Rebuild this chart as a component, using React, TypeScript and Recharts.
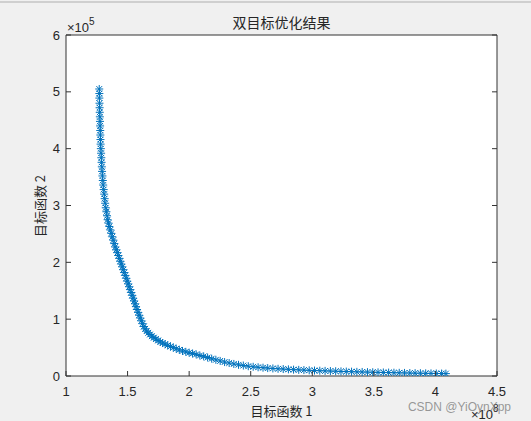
import React from 'react';
import { ScatterChart, Scatter, XAxis, YAxis, CartesianGrid } from 'recharts';

const f1 = [
  1.270, 1.271, 1.271, 1.272, 1.273, 1.274, 1.275, 1.276, 1.277, 1.278,
  1.279, 1.280, 1.281, 1.283, 1.285, 1.287, 1.289, 1.291, 1.293, 1.296,
  1.299, 1.302, 1.306, 1.310, 1.314, 1.318, 1.323, 1.328, 1.333, 1.338,
  1.345, 1.352, 1.360, 1.368, 1.376, 1.384, 1.392, 1.400, 1.408, 1.417,
  1.425, 1.433, 1.441, 1.449, 1.457, 1.465, 1.473, 1.481, 1.489, 1.497,
  1.505, 1.513, 1.521, 1.529, 1.537, 1.545, 1.553, 1.561, 1.569, 1.577,
  1.585, 1.594, 1.603, 1.612, 1.622, 1.632, 1.643, 1.655, 1.668, 1.682,
  1.697, 1.713, 1.730, 1.748, 1.766, 1.785, 1.805, 1.826, 1.848, 1.871,
  1.895, 1.920, 1.946, 1.973, 2.000, 2.028, 2.057, 2.087, 2.118, 2.150,
  2.183, 2.217, 2.252, 2.288, 2.325, 2.363, 2.401, 2.440, 2.480, 2.520,
  2.560, 2.600, 2.638, 2.680, 2.722, 2.764, 2.806, 2.848, 2.890, 2.932,
  2.975, 3.018, 3.061, 3.104, 3.147, 3.190, 3.233, 3.276, 3.319, 3.362,
  3.405, 3.448, 3.491, 3.534, 3.577, 3.620, 3.663, 3.706, 3.749, 3.792,
  3.835, 3.878, 3.921, 3.964, 4.007, 4.050, 4.085,
];
const f2 = [
  5.05, 4.97, 4.89, 4.80, 4.72, 4.64, 4.56, 4.48, 4.40, 4.32,
  4.24, 4.16, 4.08, 4.00, 3.92, 3.84, 3.76, 3.68, 3.60, 3.52,
  3.44, 3.36, 3.28, 3.20, 3.12, 3.04, 2.96, 2.89, 2.82, 2.75,
  2.69, 2.63, 2.57, 2.51, 2.45, 2.39, 2.33, 2.27, 2.22, 2.17,
  2.12, 2.07, 2.02, 1.97, 1.92, 1.87, 1.82, 1.77, 1.72, 1.67,
  1.62, 1.57, 1.52, 1.47, 1.42, 1.37, 1.32, 1.27, 1.22, 1.17,
  1.12, 1.07, 1.02, 0.97, 0.92, 0.87, 0.83, 0.79, 0.76, 0.73,
  0.70, 0.675, 0.65, 0.625, 0.60, 0.58, 0.56, 0.54, 0.52, 0.50,
  0.48, 0.46, 0.44, 0.425, 0.41, 0.395, 0.38, 0.36, 0.345, 0.325,
  0.305, 0.285, 0.265, 0.245, 0.228, 0.212, 0.197, 0.184, 0.172, 0.162,
  0.153, 0.146, 0.139, 0.133, 0.127, 0.122, 0.117, 0.112, 0.108, 0.104,
  0.100, 0.096, 0.093, 0.090, 0.087, 0.084, 0.081, 0.078, 0.076, 0.073,
  0.071, 0.068, 0.066, 0.064, 0.062, 0.060, 0.058, 0.056, 0.054, 0.052,
  0.050, 0.049, 0.047, 0.046, 0.044, 0.043, 0.042,
];
const xTicks = [1, 1.5, 2, 2.5, 3, 3.5, 4, 4.5];
const yTicks = [0, 1, 2, 3, 4, 5, 6];

const data = f1.map((x, i) => ({ x, y: f2[i] }));

const BLUE = '#0072BD';
const AXIS = '#333333';
const TEXT = '#262626';
const NUM_FONT = '"Liberation Sans", Arial, sans-serif';
const CJK_FONT = '"Noto Sans CJK SC", sans-serif';
const TICK_LEN = 5;

const Asterisk = (props: any) => {
  const { cx, cy } = props;
  if (cx == null || cy == null) return null;
  const r = 4;
  const d = 2.9;
  return (
    <g stroke={BLUE} strokeWidth={1} fill="none">
      <line x1={cx - r} y1={cy} x2={cx + r} y2={cy} />
      <line x1={cx} y1={cy - r} x2={cx} y2={cy + r} />
      <line x1={cx - d} y1={cy - d} x2={cx + d} y2={cy + d} />
      <line x1={cx - d} y1={cy + d} x2={cx + d} y2={cy - d} />
    </g>
  );
};

// matlab style: tick marks point into the box
const BottomTick = (props: any) => {
  const { x, y, payload } = props;
  return (
    <g>
      <line x1={x} y1={y} x2={x} y2={y - TICK_LEN} stroke={AXIS} />
      <text x={x} y={y + 20} textAnchor="middle" fontSize={13} fontFamily={NUM_FONT} fill={TEXT}>
        {payload.value}
      </text>
    </g>
  );
};

const TopTick = (props: any) => {
  const { x, y } = props;
  return <line x1={x} y1={y} x2={x} y2={y + TICK_LEN} stroke={AXIS} />;
};

const LeftTick = (props: any) => {
  const { x, y, payload } = props;
  return (
    <g>
      <line x1={x} y1={y} x2={x + TICK_LEN} y2={y} stroke={AXIS} />
      <text x={x - 6} y={y + 4.5} textAnchor="end" fontSize={13} fontFamily={NUM_FONT} fill={TEXT}>
        {payload.value}
      </text>
    </g>
  );
};

const RightTick = (props: any) => {
  const { x, y } = props;
  return <line x1={x} y1={y} x2={x - TICK_LEN} y2={y} stroke={AXIS} />;
};

export default function App() {
  return (
    <div style={{ position: 'relative', width: 531, height: 421, background: '#f0f0f0', overflow: 'hidden' }}>
      <style>{'body{margin:0}'}</style>
      <div style={{ position: 'absolute', left: 0, top: 1, width: 531, height: 2, background: '#cfcfcf' }} />
      <ScatterChart width={531} height={421} margin={{ top: 25, right: 24, bottom: 15, left: 26 }}>
        <CartesianGrid fill="#ffffff" horizontal={false} vertical={false} />
        <XAxis
          type="number"
          dataKey="x"
          domain={[1, 4.5]}
          ticks={xTicks}
          allowDataOverflow
          height={30}
          tickSize={0}
          tickMargin={0}
          tickLine={false}
          tick={<BottomTick />}
          stroke={AXIS}
          interval={0}
        />
        <XAxis
          xAxisId="top"
          orientation="top"
          type="number"
          domain={[1, 4.5]}
          ticks={xTicks}
          allowDataOverflow
          height={10}
          tickSize={0}
          tickMargin={0}
          tickLine={false}
          tick={<TopTick />}
          stroke={AXIS}
          interval={0}
        />
        <YAxis
          type="number"
          dataKey="y"
          domain={[0, 6]}
          ticks={yTicks}
          allowDataOverflow
          width={40}
          tickSize={0}
          tickMargin={0}
          tickLine={false}
          tick={<LeftTick />}
          stroke={AXIS}
          interval={0}
        />
        <YAxis
          yAxisId="right"
          orientation="right"
          type="number"
          domain={[0, 6]}
          ticks={yTicks}
          allowDataOverflow
          width={10}
          tickSize={0}
          tickMargin={0}
          tickLine={false}
          tick={<RightTick />}
          stroke={AXIS}
          interval={0}
        />
        <Scatter data={data} shape={<Asterisk />} isAnimationActive={false} />
      </ScatterChart>
      <svg
        width={531}
        height={421}
        style={{ position: 'absolute', left: 0, top: 0, pointerEvents: 'none' }}
      >
        <text x={281.5} y={28} textAnchor="middle" fontSize={14} fontFamily={CJK_FONT} fill={TEXT}>
          双目标优化结果
        </text>
        <text x={281.5} y={416} textAnchor="middle" fontSize={13} fontFamily={CJK_FONT} fill={TEXT}>
          目标函数 1
        </text>
        <text
          transform="translate(45,206) rotate(-90)"
          textAnchor="middle"
          fontSize={13}
          fontFamily={CJK_FONT}
          fill={TEXT}
        >
          目标函数 2
        </text>
        <text x={67} y={31.5} fontSize={13} fontFamily={NUM_FONT} fill={TEXT}>
          ×10<tspan fontSize={10} dy={-7}>5</tspan>
        </text>
        <text x={471} y={419} fontSize={13} fontFamily={NUM_FONT} fill={TEXT}>
          ×10<tspan fontSize={10} dy={-7}>8</tspan>
        </text>
        <text x={511} y={411} textAnchor="end" fontSize={12} fontFamily={NUM_FONT} fill="rgba(120,120,120,0.75)">
          CSDN @YiOynXpp
        </text>
      </svg>
    </div>
  );
}
